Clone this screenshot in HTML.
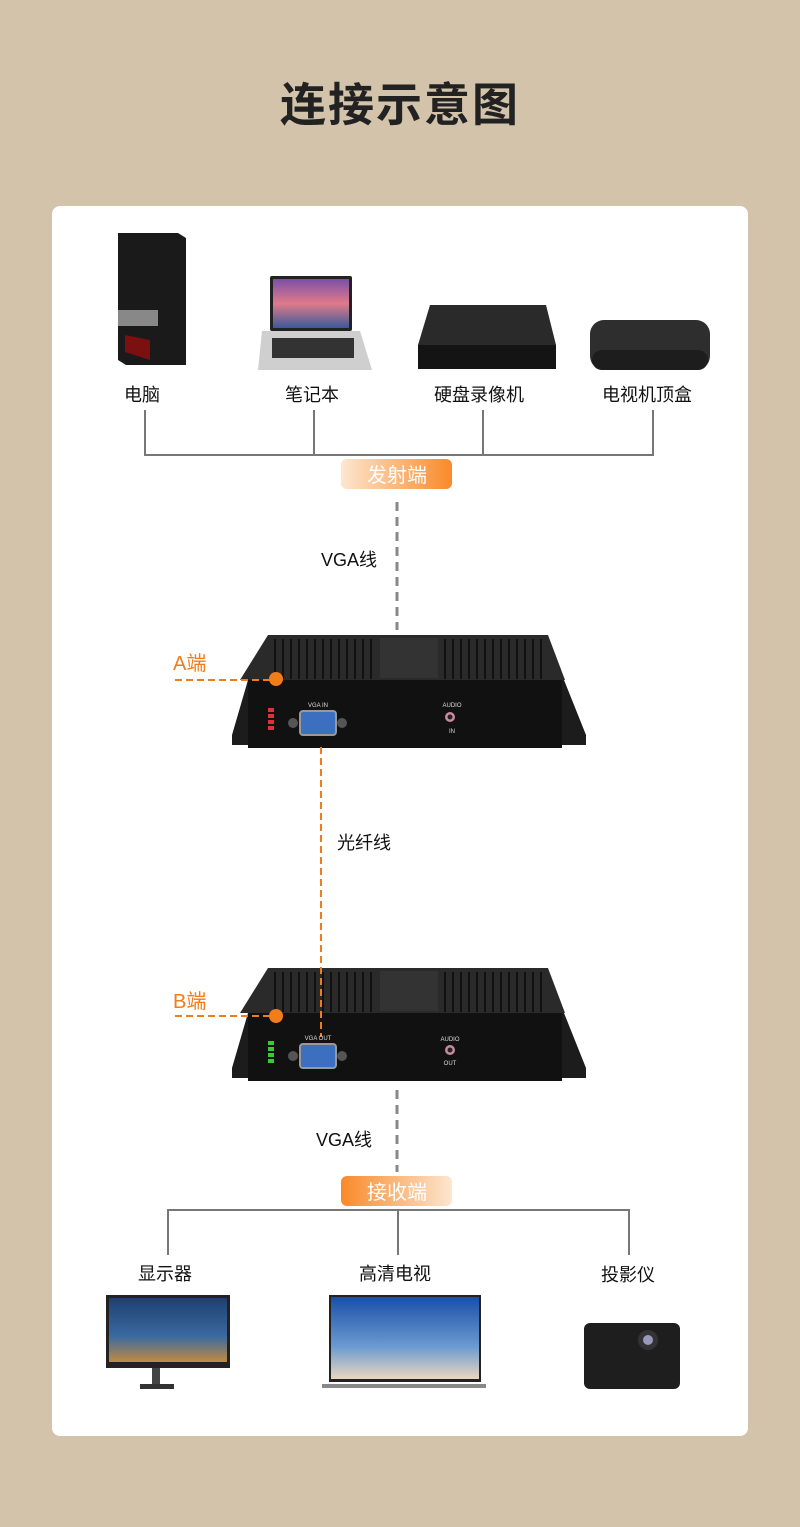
<!DOCTYPE html>
<html><head><meta charset="utf-8"><style>
body{margin:0;width:800px;height:1527px;background:#d3c3aa;position:relative;overflow:hidden;font-family:"Liberation Sans","Noto Sans CJK SC",sans-serif}
.t{position:absolute;color:#111;font-size:18px;white-space:nowrap}
</style></head><body>
<div class="t" style="left:0;width:800px;text-align:center;top:69px;font-size:46px;font-weight:bold;color:#222;letter-spacing:2px">连接示意图</div>
<div style="position:absolute;left:52px;top:206px;width:696px;height:1230px;background:#fff;border-radius:8px"></div>
<svg width="800" height="1527" style="position:absolute;left:0;top:0">
<defs>
<linearGradient id="og" x1="0" x2="1"><stop offset="0" stop-color="#fde6cf"/><stop offset="1" stop-color="#f98a2a"/></linearGradient>
<linearGradient id="og2" x1="0" x2="1"><stop offset="0" stop-color="#f98a2a"/><stop offset="1" stop-color="#fde6cf"/></linearGradient>
<linearGradient id="scr" x1="0" y1="0" x2="0" y2="1"><stop offset="0" stop-color="#7a4fa8"/><stop offset=".5" stop-color="#e07a8a"/><stop offset="1" stop-color="#3a5a9a"/></linearGradient>
<linearGradient id="scr2" x1="0" y1="0" x2="0" y2="1"><stop offset="0" stop-color="#1a4fa8"/><stop offset=".6" stop-color="#6a9ad0"/><stop offset="1" stop-color="#e9d6c0"/></linearGradient>
<linearGradient id="scr3" x1="0" y1="0" x2="0" y2="1"><stop offset="0" stop-color="#1f3f70"/><stop offset=".6" stop-color="#3a6aa0"/><stop offset="1" stop-color="#c08a40"/></linearGradient>
<g id="dev">
<path d="M268 0 L548 0 L565 45 L240 45 Z" fill="#2a2a2a"/>
<g stroke="#111" stroke-width="2">
<path d="M275 4V44M283 4V44M291 4V44M299 4V44M307 4V44M315 4V44M323 4V44M331 4V44M339 4V44M347 4V44M355 4V44M363 4V44M371 4V44"/>
<path d="M445 4V44M453 4V44M461 4V44M469 4V44M477 4V44M485 4V44M493 4V44M501 4V44M509 4V44M517 4V44M525 4V44M533 4V44M541 4V44"/>
</g>
<rect x="380" y="3" width="58" height="40" fill="#333"/>
<path d="M248 45 L232 100 L232 110 L586 110 L586 100 L564 45 Z" fill="#1c1c1c"/>
<rect x="248" y="45" width="314" height="68" fill="#111"/>
<rect x="300" y="76" width="36" height="24" rx="3" fill="#3d6fc0" stroke="#999" stroke-width="2"/>
<circle cx="293" cy="88" r="5" fill="#555"/><circle cx="342" cy="88" r="5" fill="#555"/>
<circle cx="450" cy="82" r="5" fill="#c98aa0"/><circle cx="450" cy="82" r="2.5" fill="#222"/>
</g>
</defs>
<path d="M118 233 L178 233 L186 238 L186 365 L126 365 L118 360 Z" fill="#1a1a1a"/>
<rect x="118" y="310" width="40" height="16" fill="#888"/>
<path d="M125 335 L150 340 L150 360 L125 352Z" fill="#7a1010"/>
<rect x="270" y="276" width="82" height="55" rx="2" fill="#222"/>
<rect x="273" y="279" width="76" height="49" fill="url(#scr)"/>
<path d="M262 331 L360 331 L372 370 L258 370 Z" fill="#cfcfcf"/>
<rect x="272" y="338" width="82" height="20" fill="#333"/>
<path d="M430 305 L546 305 L556 345 L418 345 Z" fill="#2a2a2a"/>
<rect x="418" y="345" width="138" height="24" fill="#141414"/>
<rect x="590" y="320" width="120" height="50" rx="14" fill="#2e2e2e"/>
<rect x="592" y="350" width="116" height="20" rx="10" fill="#1d1d1d"/>
<g stroke="#777" stroke-width="2" fill="none">
<path d="M145 410V455H653V410M314 410V455M483 410V455"/>
</g>
<rect x="341" y="459" width="111" height="30" rx="6" fill="url(#og)"/>
<text x="397" y="482" font-size="20" fill="#fff" text-anchor="middle" font-family="Liberation Sans,Noto Sans CJK SC,sans-serif">发射端</text>
<path d="M397 502V630" stroke="#888" stroke-width="3" stroke-dasharray="9,6"/>
<use href="#dev" y="635"/>
<use href="#dev" y="968"/>
<g stroke="#f07c1a" stroke-width="2" stroke-dasharray="7,4">
<path d="M175 680H270"/><path d="M175 1016H270"/>
<path d="M321 747V1037"/>
</g>
<circle cx="276" cy="679" r="7" fill="#f07c1a"/>
<circle cx="276" cy="1016" r="7" fill="#f07c1a"/>
<text x="173" y="670" font-size="20" fill="#f07c1a" font-family="Liberation Sans,Noto Sans CJK SC,sans-serif">A端</text>
<text x="173" y="1008" font-size="20" fill="#f07c1a" font-family="Liberation Sans,Noto Sans CJK SC,sans-serif">B端</text>
<g fill="#d33"><rect x="268" y="708" width="6" height="4"/><rect x="268" y="714" width="6" height="4"/><rect x="268" y="720" width="6" height="4"/><rect x="268" y="726" width="6" height="4"/></g>
<g fill="#3c3"><rect x="268" y="1041" width="6" height="4"/><rect x="268" y="1047" width="6" height="4"/><rect x="268" y="1053" width="6" height="4"/><rect x="268" y="1059" width="6" height="4"/></g>
<text x="318" y="707" font-size="6" fill="#ddd" text-anchor="middle">VGA IN</text>
<text x="452" y="707" font-size="6" fill="#ddd" text-anchor="middle">AUDIO</text>
<text x="452" y="733" font-size="6" fill="#ddd" text-anchor="middle">IN</text>
<text x="318" y="1040" font-size="6" fill="#ddd" text-anchor="middle">VGA OUT</text>
<text x="450" y="1041" font-size="6" fill="#ddd" text-anchor="middle">AUDIO</text>
<text x="450" y="1065" font-size="6" fill="#ddd" text-anchor="middle">OUT</text>
<path d="M397 1090V1172" stroke="#888" stroke-width="3" stroke-dasharray="9,6"/>
<rect x="341" y="1176" width="111" height="30" rx="6" fill="url(#og2)"/>
<text x="397" y="1199" font-size="20" fill="#fff" text-anchor="middle" font-family="Liberation Sans,Noto Sans CJK SC,sans-serif">接收端</text>
<g stroke="#777" stroke-width="2" fill="none"><path d="M168 1255V1210H629V1255M398 1210V1255"/></g>
<rect x="106" y="1295" width="124" height="73" fill="#222"/>
<rect x="109" y="1298" width="118" height="64" fill="url(#scr3)"/>
<rect x="152" y="1368" width="8" height="16" fill="#444"/><rect x="140" y="1384" width="34" height="5" fill="#333"/>
<rect x="329" y="1295" width="152" height="87" fill="#222"/>
<rect x="331" y="1297" width="148" height="82" fill="url(#scr2)"/>
<rect x="322" y="1384" width="164" height="4" fill="#888"/>
<rect x="584" y="1323" width="96" height="66" rx="6" fill="#1e1e1e"/>
<circle cx="648" cy="1340" r="10" fill="#333"/><circle cx="648" cy="1340" r="5" fill="#99b"/>
</svg>
<div class="t" style="left:124px;top:381px">电脑</div>
<div class="t" style="left:285px;top:381px">笔记本</div>
<div class="t" style="left:434px;top:381px">硬盘录像机</div>
<div class="t" style="left:602px;top:381px">电视机顶盒</div>
<div class="t" style="left:321px;top:546px">VGA线</div>
<div class="t" style="left:337px;top:829px">光纤线</div>
<div class="t" style="left:316px;top:1126px">VGA线</div>
<div class="t" style="left:138px;top:1260px">显示器</div>
<div class="t" style="left:359px;top:1260px">高清电视</div>
<div class="t" style="left:601px;top:1261px">投影仪</div>
</body></html>
